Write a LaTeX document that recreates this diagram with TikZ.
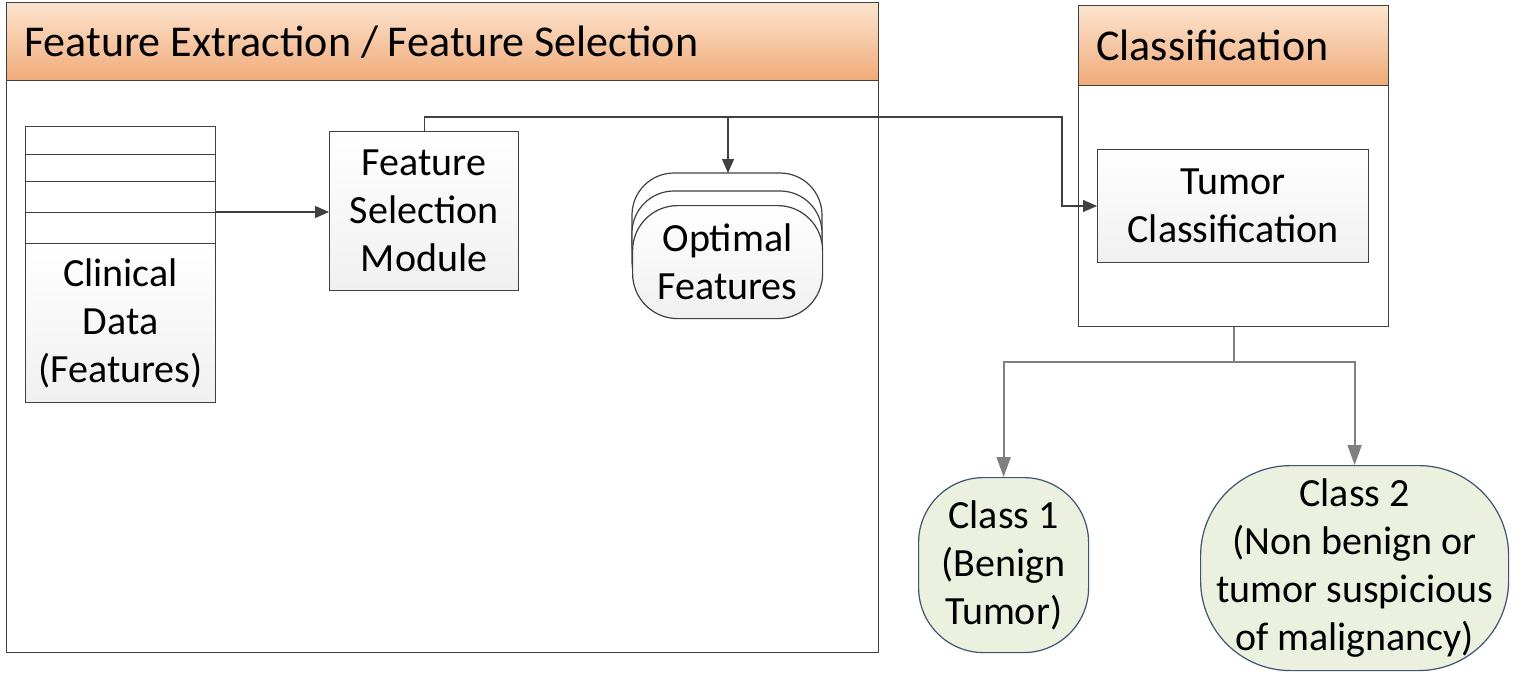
\documentclass[tikz,border=0pt]{standalone}
\usepackage{fontspec}
\setmainfont{Carlito}
\usetikzlibrary{arrows.meta}
\definecolor{hdtop}{HTML}{FCE4CF}
\definecolor{hdbot}{HTML}{F0AA78}
\definecolor{clsfill}{HTML}{EBF1DE}
\definecolor{clsdraw}{HTML}{3F5472}
\tikzset{
  box/.style={draw=black!75, line width=1.2pt, top color=white, bottom color=black!6, inner sep=0pt, align=center, font=\fontsize{40}{48}\selectfont},
  row/.style={draw=black!75, line width=1.2pt, fill=white, inner sep=0pt},
  hdr/.style={draw=black!75, line width=1.2pt, top color=hdtop, bottom color=hdbot, inner sep=0pt},
  panel/.style={draw=black!75, line width=1.2pt, fill=white},
  cls/.style={draw=clsdraw, line width=1.2pt, fill=clsfill, inner sep=0pt, align=center, font=\fontsize{40}{48}\selectfont},
  con/.style={draw=black!75, line width=1.2pt, -{Triangle[length=14pt,width=12pt]}},
  gcon/.style={draw=black!50, line width=2pt, -{Triangle[length=20pt,width=14pt]}},
  ttl/.style={anchor=west, font=\fontsize{44}{50}\selectfont, inner sep=0pt},
}
\begin{document}
\begin{tikzpicture}[x=1pt,y=-1pt]
\useasboundingbox (0,0) rectangle (1524,685);
\fill[white] (0,0) rectangle (1524,685);
% left panel
\node[panel, minimum width=872pt, minimum height=650pt, anchor=north west] (lp) at (6,2) {};
\node[hdr, minimum width=872pt, minimum height=78pt, anchor=north west] (lh) at (6,2) {};
\node[ttl] (lt) at (24,42) {Feature Extraction / Feature Selection};
% right panel
\node[panel, minimum width=310pt, minimum height=321pt, anchor=north west] (rp) at (1078,5) {};
\node[hdr, minimum width=310pt, minimum height=80pt, anchor=north west] (rh) at (1078,5) {};
\node[ttl] (rt) at (1096,45) {Classification};
% clinical data
\foreach \a/\b [count=\i] in {126/154,154/181,181/212,212/243}
  \node[row, minimum width=190pt, minimum height=\b-\a, anchor=north west] (r\i) at (25,\a) {};
\node[box, minimum width=190pt, minimum height=159pt, anchor=north west] (cd) at (25,243) {Clinical\\Data\\(Features)};
% feature selection module
\node[box, minimum width=189pt, minimum height=159pt, anchor=north west] (fsm) at (329,131) {Feature\\Selection\\Module};
% optimal features stack
\foreach \y in {173,191} \draw[draw=black!75, line width=1.2pt, fill=white, rounded corners=42pt] (632,\y) rectangle (822,\y+113);
\node[box, minimum width=190pt, minimum height=113pt, anchor=north west, rounded corners=45pt] (of) at (632,205) {Optimal\\Features};
\coordinate (oft) at (728,173);
% tumor classification
\node[box, minimum width=271pt, minimum height=113pt, anchor=north west] (tc) at (1097,149) {Tumor\\Classification};
% classes
\node[cls, minimum width=170pt, minimum height=175pt, rounded corners=65pt, anchor=north west] (c1) at (918,477) {Class 1\\(Benign\\Tumor)};
\node[cls, minimum width=308pt, minimum height=205pt, rounded corners=90pt, anchor=north west] (c2) at (1200,465) {Class 2\\(Non benign or\\tumor suspicious\\of malignancy)};
% connectors
\coordinate (sp) at (728,117);
\draw[con] (r4.north east) -- (fsm.west |- r4.north east);
\draw[con] (fsm.north) |- (sp) -- (oft);
\draw[con] (sp) -| (1062,206) -- (tc.west |- 0,206);
\coordinate (jn) at (rp.south |- 0,362);
\draw[draw=black!50, line width=2pt] (rp.south) -- (jn);
\draw[gcon] (jn) -| (c1.north);
\draw[gcon] (jn) -| (c2.north);
\end{tikzpicture}
\end{document}
